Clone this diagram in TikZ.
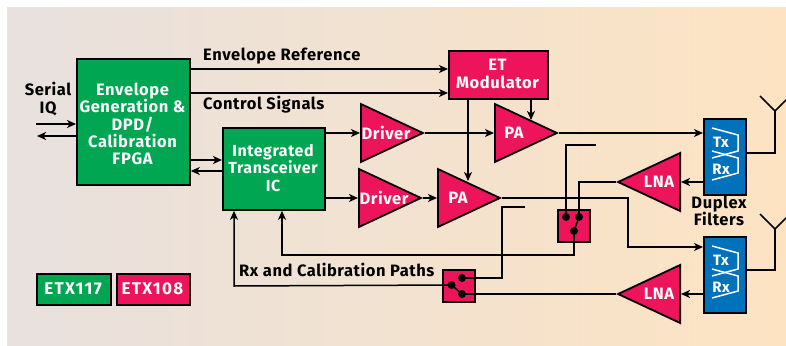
\documentclass[tikz,border=0pt]{standalone}
\usepackage{fontspec}
\setmainfont{Fira Sans}[BoldFont={Fira Sans Bold},LetterSpace=3.5]
\usetikzlibrary{arrows.meta,shapes.geometric}
\definecolor{etgreen}{HTML}{00A651}
\definecolor{etpink}{HTML}{ED145B}
\definecolor{etblue}{HTML}{0072BC}
\definecolor{bgleft}{HTML}{E8E1DE}
\definecolor{bgright}{HTML}{FDE3C2}
\tikzset{
  x=1pt,y=-1pt,
  line width=1.6pt,
  wire/.style={draw=black,line width=1.5pt},
  arr/.style={wire,-{Stealth[length=9pt,width=8pt,inset=2.5pt]}},
  lbl/.style={font=\bfseries\fontsize{16.5}{17.2}\selectfont,text=black,align=center,inner sep=0pt},
  wlbl/.style={font=\bfseries\fontsize{16.5}{17.2}\selectfont,text=white,align=center,inner sep=0pt},
  gbox/.style={draw=black,fill=etgreen,line width=1.8pt,inner sep=0pt,anchor=north west},
  pbox/.style={draw=black,fill=etpink,line width=1.8pt,inner sep=0pt,anchor=north west},
  bbox/.style={draw=black,fill=etblue,line width=1.8pt,inner sep=0pt,anchor=north west,minimum width=42pt,minimum height=76pt},
  tri/.style={draw=black,fill=etpink,line width=1.8pt,inner sep=0pt,isosceles triangle,isosceles triangle stretches,
     minimum width=58pt,minimum height=62pt,anchor=lower side},
  trir/.style={tri,shape border rotate=0},
  tril/.style={tri,shape border rotate=180},
  dot/.style={circle,fill=black,draw=none,minimum size=8pt,inner sep=0pt},
  filt/.style={draw=white,line width=1.5pt},
  legt/.style={wlbl,font=\bfseries\fontsize{17}{17}\selectfont\addfontfeatures{LetterSpace=8}},
  duplbl/.style={font=\bfseries\fontsize{15}{15}\selectfont,text=white,inner sep=0pt},
}
\begin{document}
\begin{tikzpicture}
\useasboundingbox (0,0) rectangle (786,345);
\shade[left color=bgleft,right color=bgright,draw=none] (7,8) rectangle (786,345);

% boxes
\node[gbox,minimum width=113pt,minimum height=126pt] (fpga) at (76,58) {};
\node[wlbl] (fpgat) at (132.5,124) {Envelope\\Generation \&\\DPD/\\Calibration\\FPGA};
\node[gbox,minimum width=102pt,minimum height=82pt] (trx) at (222,127) {};
\node[wlbl,font=\bfseries\fontsize{16}{17.2}\selectfont] (trxt) at (273,168) {Integrated\\Transceiver\\IC};
\node[pbox,minimum width=99pt,minimum height=48pt] (et) at (448,50) {};
\node[wlbl] (ett) at (497.5,74) {ET\\Modulator};

% amplifiers
\node[trir] (drv1) at (360,133) {};
\node[wlbl] (drv1t) at (386,133) {Driver};
\node[trir] (pa1) at (494,133) {};
\node[wlbl] (pa1t) at (514,133) {PA};
\node[trir] (drv2) at (358,198) {};
\node[wlbl] (drv2t) at (384,198) {Driver};
\node[trir] (pa2) at (437,198) {};
\node[wlbl] (pa2t) at (458,198) {PA};
\node[tril] (lna1) at (681,182) {};
\node[wlbl] (lna1t) at (659,182) {LNA};
\node[tril] (lna2) at (681,294) {};
\node[wlbl] (lna2t) at (659,294) {LNA};

% switches
\node[pbox,minimum width=32pt,minimum height=32pt] (sw1) at (557,209) {};
\node[dot] (s1a) at (566,217) {};
\node[dot] (s1b) at (579,217) {};
\node[dot] (s1c) at (574,231) {};
\node[pbox,minimum width=32pt,minimum height=32pt] (sw2) at (442,269) {};
\node[dot] (s2a) at (462,278) {};
\node[dot] (s2b) at (451.5,285) {};
\node[dot] (s2c) at (462,294) {};

% duplexers
\node[bbox] (dup1) at (703,118) {};
\node[bbox] (dup2) at (703,236) {};
\foreach \d/\oy in {dup1/0,dup2/118}{
  \begin{scope}[yshift=-\oy pt]
    \draw[filt] (712,128) -- (738,135) -- (738,151) -- (712,158);
    \draw[filt] (712,151) -- (738,158) -- (738,173) -- (712,180);
    \node[duplbl] at (721,142) {Tx};
    \node[duplbl] at (721,169) {Rx};
  \end{scope}
}

% antennas
\coordinate (ant1) at (775,111);
\coordinate (ant1l) at (760,96);
\coordinate (ant1r) at (786,100);
\coordinate (ant2) at (775,229);
\coordinate (ant2l) at (760,214);
\coordinate (ant2r) at (786,218);
\draw[wire] (dup1.east |- 0,153) -| (ant1);
\draw[wire] (ant1l) -- (ant1) -- (ant1r);
\draw[wire] (dup2.east |- 0,270) -| (ant2);
\draw[wire] (ant2l) -- (ant2) -- (ant2r);

% serial IQ
\coordinate (iqin) at (36,124);
\coordinate (iqout) at (37,136);
\draw[arr] (iqin) -- (iqin -| fpga.west);
\draw[arr] (iqout -| fpga.west) -- (iqout);

% top connectors
\draw[arr] (fpga.east |- 0,69) -- (et.west |- 0,69);
\draw[arr] (fpga.east |- 0,93) -- (et.west |- 0,93);
\draw[arr] (fpga.east |- 0,160) -- (trx.west |- 0,160);
\draw[arr] (trx.west |- 0,171) -- (fpga.east |- 0,171);
\draw[arr] (trx.east |- drv1.lower side) -- (drv1.lower side);
\draw[arr] (trx.east |- drv2.lower side) -- (drv2.lower side);
\draw[arr] (drv1.apex) -- (pa1.lower side);
\draw[arr] (drv2.apex) -- (pa2.lower side);
\coordinate (pa2in) at (468,181);
\coordinate (pa1in) at (531,120);
\draw[arr] (et.south -| pa2in) -- (pa2in);
\draw[arr] (et.south -| pa1in) -- (pa1in);

% to and from duplexers
\draw[arr] (pa1.apex) -- (dup1.west |- pa1.apex);
\coordinate (bend) at (628,247);
\draw[arr] (pa2.apex) -| (bend) -- (dup2.west |- bend);
\draw[arr] (dup1.west |- lna1.apex) -- (lna1.lower side);
\draw[arr] (dup2.west |- lna2.apex) -- (lna2.lower side);

% switch 1 wiring
\coordinate (s1end) at (596,145);
\draw[wire] (s1a.center) |- (s1end);
\draw[wire] (lna1.apex) -| (s1b.center);
\draw[wire] (s1b.center) -- (s1c.center);
\coordinate (rxa) at (282,255);
\draw[arr] (s1c.center) |- (rxa) -- (rxa |- trx.south);

% switch 2 wiring
\coordinate (s2end) at (525,207);
\draw[wire] (s2a.center) -| (502,207) -- (s2end);
\draw[wire] (s2b.center) -- (s2c.center);
\draw[wire] (s2c.center) -- (lna2.apex);
\coordinate (rxb) at (234,286);
\draw[arr] (s2b.center) -- (rxb) -- (rxb |- trx.south);

% texts
\node[lbl,anchor=west] (tenv) at (203,56) {Envelope Reference};
\node[lbl,anchor=west] (tctl) at (203,105) {Control Signals};
\node[lbl] (tiq) at (48,99) {Serial\\IQ};
\node[lbl] (tdup) at (719,211) {Duplex\\Filters};
\node[lbl,anchor=west] (trx2) at (239,270) {Rx and Calibration Paths};

% legend
\node[gbox,minimum width=74pt,minimum height=31pt] (lg) at (36,273) {};
\node[legt] (lgt) at (73,289) {ETX117};
\node[pbox,minimum width=73pt,minimum height=31pt] (lp) at (116,273) {};
\node[legt] (lpt) at (152.5,289) {ETX108};
\end{tikzpicture}
\end{document}
